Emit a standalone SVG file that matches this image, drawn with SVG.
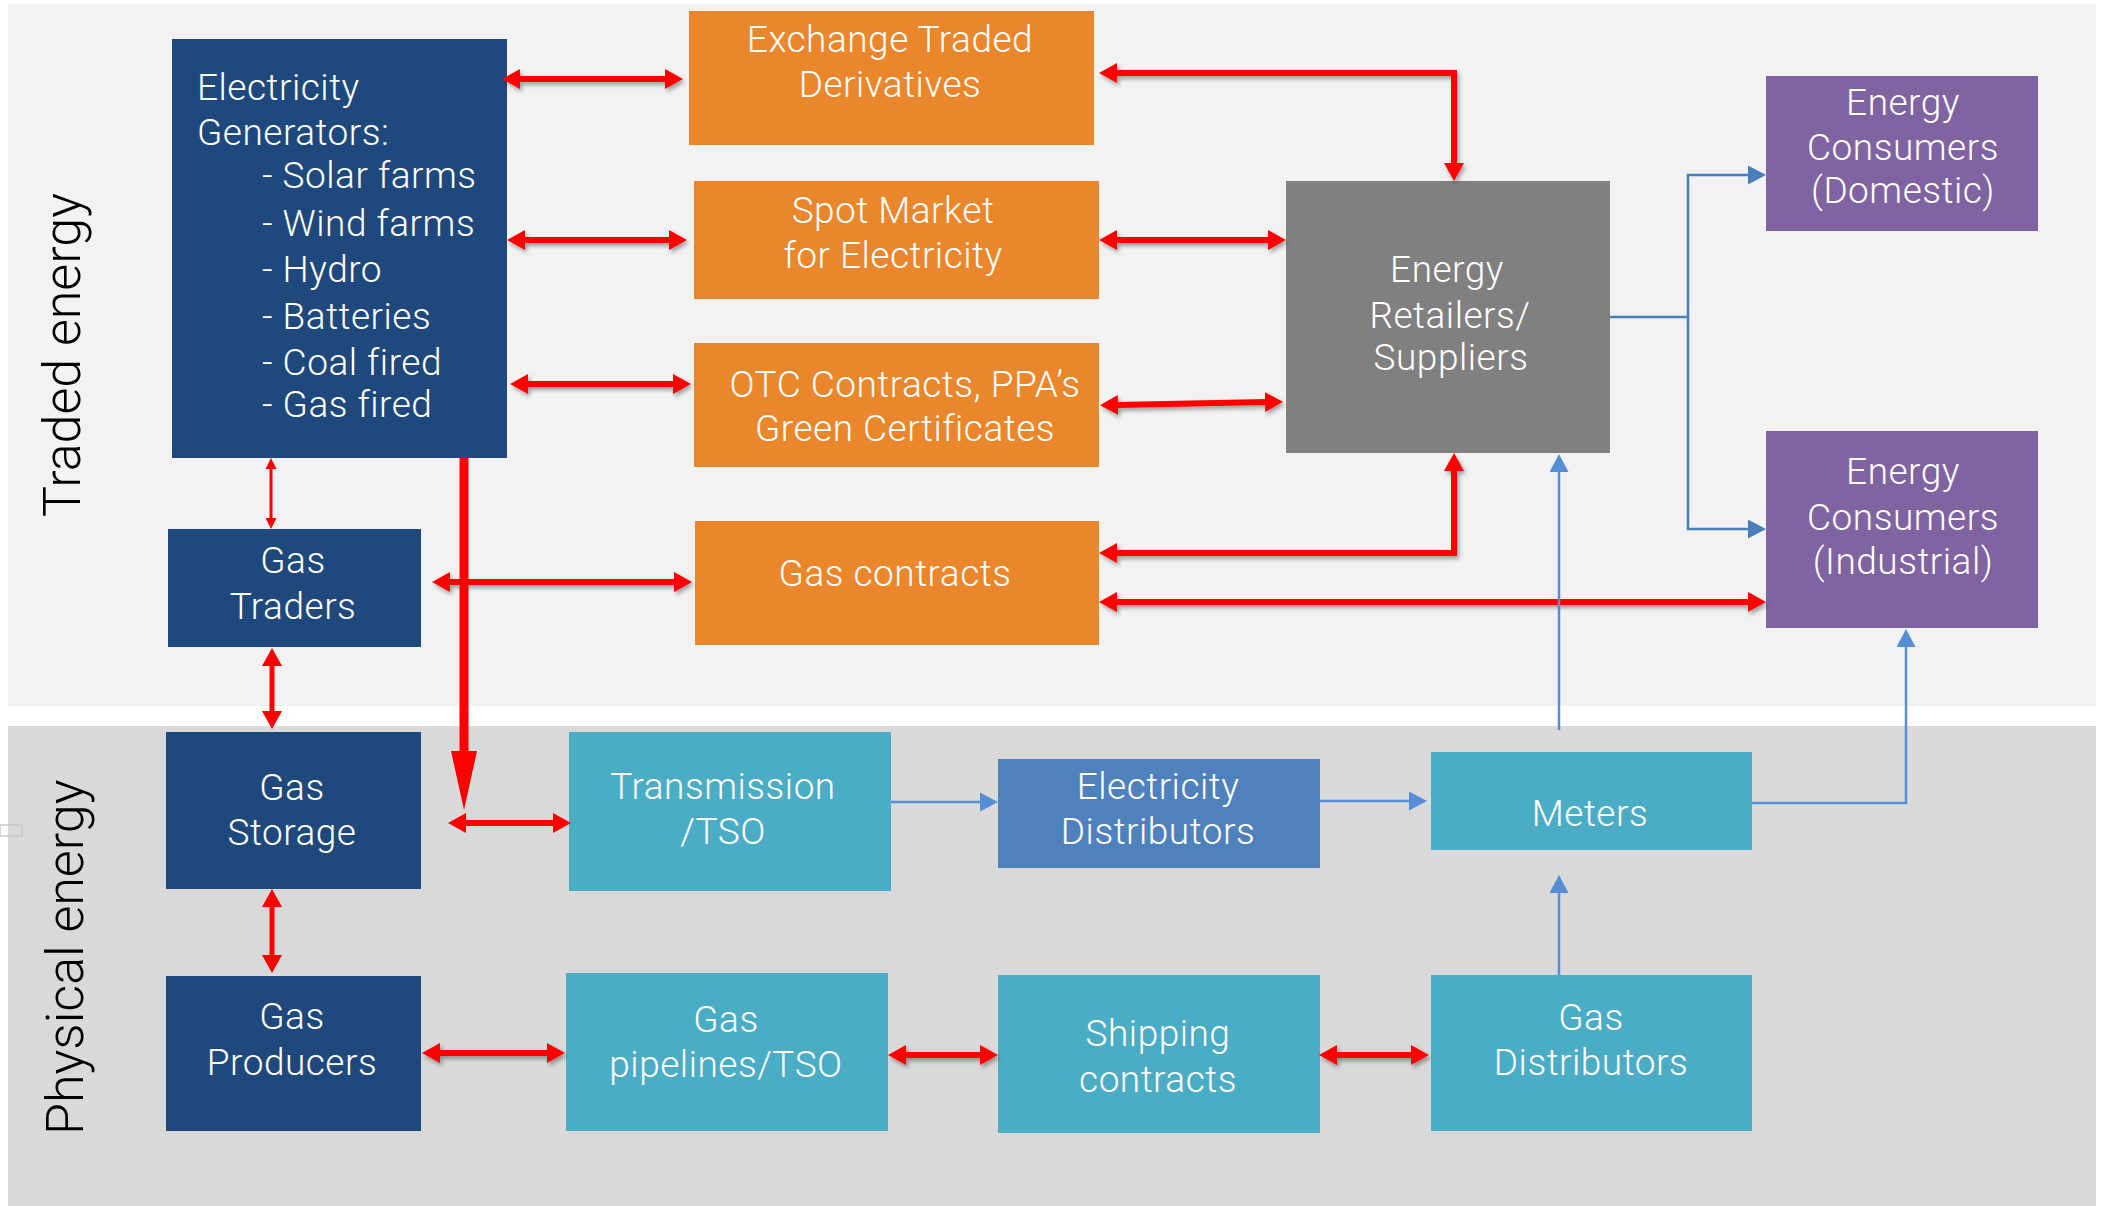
<svg xmlns="http://www.w3.org/2000/svg" width="2103" height="1206" viewBox="0 0 2103 1206">
<style>
  .lbl { font-family: Roboto, "Liberation Sans", "DejaVu Sans", sans-serif; font-weight: 300; font-size: 37px; letter-spacing: 0.5px; fill: #FFFFFF; }
  .c { text-anchor: middle; }
  .side { font-family: Roboto, "Liberation Sans", "DejaVu Sans", sans-serif; font-weight: 300; font-size: 52px; fill: #000000; }
  .navy { fill: #1F497D; }
  .orange { fill: #EA862B; }
  .grey { fill: #808080; }
  .purple { fill: #8064A2; }
  .teal { fill: #4BACC6; }
  .steel { fill: #4F81BD; }
  .red6 { stroke: #FF0000; stroke-width: 6; fill: none; }
  .red5 { stroke: #FF0000; stroke-width: 5; fill: none; }
  .red3 { stroke: #FF0000; stroke-width: 3; fill: none; }
  .blue { stroke: #558ED5; stroke-width: 2.5; fill: none; }
  .blue2 { stroke: #4A7EBB; stroke-width: 2.5; fill: none; }
</style>
<defs>
  <filter id="shadow" x="-20%" y="-50%" width="140%" height="200%">
    <feDropShadow dx="2" dy="3" stdDeviation="2" flood-color="#000000" flood-opacity="0.35"/>
  </filter>
  <marker id="rh" viewBox="0 0 18 20" refX="1" refY="10" markerWidth="18" markerHeight="20" markerUnits="userSpaceOnUse" orient="auto-start-reverse">
    <path d="M0,0 L18,10 L0,20 z" fill="#FF0000"/>
  </marker>
  <marker id="rs" viewBox="0 0 11 11" refX="1" refY="5.5" markerWidth="11" markerHeight="11" markerUnits="userSpaceOnUse" orient="auto-start-reverse">
    <path d="M0,0 L11,5.5 L0,11 z" fill="#FF0000"/>
  </marker>
  <marker id="bh" viewBox="0 0 18 19" refX="1" refY="9.5" markerWidth="18" markerHeight="19" markerUnits="userSpaceOnUse" orient="auto">
    <path d="M0,0 L18,9.5 L0,19 z" fill="#558ED5"/>
  </marker>
  <marker id="bh2" viewBox="0 0 18 19" refX="1" refY="9.5" markerWidth="18" markerHeight="19" markerUnits="userSpaceOnUse" orient="auto">
    <path d="M0,0 L18,9.5 L0,19 z" fill="#4A7EBB"/>
  </marker>
</defs>

<rect x="0" y="0" width="2103" height="1206" fill="#FFFFFF"/>

<g id="panels">
  <rect id="traded-panel" x="8" y="4" width="2088" height="702" fill="#F2F2F2"/>
  <rect id="physical-panel" x="8" y="726" width="2088" height="480" fill="#D9D9D9"/>
  <rect x="0" y="825" width="22" height="11" fill="none" stroke="#C8C8C8" stroke-width="1.5"/>
  <text class="side" transform="translate(80,517) rotate(-90)">Traded energy</text>
  <text class="side" transform="translate(83,1135) rotate(-90)">Physical energy</text>
</g>

<g id="n-elecgen">
  <rect class="navy" x="172" y="39" width="335" height="419"/>
  <text class="lbl" x="197" y="100">Electricity</text>
  <text class="lbl" x="197" y="145">Generators:</text>
  <text class="lbl" x="262" y="188">- Solar farms</text>
  <text class="lbl" x="262" y="236">- Wind farms</text>
  <text class="lbl" x="262" y="282">- Hydro</text>
  <text class="lbl" x="262" y="329">- Batteries</text>
  <text class="lbl" x="262" y="375">- Coal fired</text>
  <text class="lbl" x="262" y="417">- Gas fired</text>
</g>

<g id="n-exchange">
  <rect class="orange" x="689" y="11" width="405" height="134"/>
  <text class="lbl c" x="890" y="52">Exchange Traded</text>
  <text class="lbl c" x="890" y="97">Derivatives</text>
</g>

<g id="n-spot">
  <rect class="orange" x="694" y="181" width="405" height="118"/>
  <text class="lbl c" x="893" y="223">Spot Market</text>
  <text class="lbl c" x="893" y="268">for Electricity</text>
</g>

<g id="n-otc">
  <rect class="orange" x="694" y="343" width="405" height="124"/>
  <text class="lbl c" x="905" y="397">OTC Contracts, PPA’s</text>
  <text class="lbl c" x="905" y="441">Green Certificates</text>
</g>

<g id="n-gascontracts">
  <rect class="orange" x="695" y="521" width="404" height="124"/>
  <text class="lbl c" x="895" y="586">Gas contracts</text>
</g>

<g id="n-retailers">
  <rect class="grey" x="1286" y="181" width="324" height="272"/>
  <text class="lbl c" x="1447" y="282">Energy</text>
  <text class="lbl c" x="1450" y="328">Retailers/</text>
  <text class="lbl c" x="1451" y="370">Suppliers</text>
</g>

<g id="n-domestic">
  <rect class="purple" x="1766" y="76" width="272" height="155"/>
  <text class="lbl c" x="1903" y="115">Energy</text>
  <text class="lbl c" x="1903" y="160">Consumers</text>
  <text class="lbl c" x="1903" y="203">(Domestic)</text>
</g>

<g id="n-industrial">
  <rect class="purple" x="1766" y="431" width="272" height="197"/>
  <text class="lbl c" x="1903" y="484">Energy</text>
  <text class="lbl c" x="1903" y="530">Consumers</text>
  <text class="lbl c" x="1903" y="574">(Industrial)</text>
</g>

<g id="n-gastraders">
  <rect class="navy" x="168" y="529" width="253" height="118"/>
  <text class="lbl c" x="293" y="573">Gas</text>
  <text class="lbl c" x="293" y="619">Traders</text>
</g>

<g id="n-gasstorage">
  <rect class="navy" x="166" y="732" width="255" height="157"/>
  <text class="lbl c" x="292" y="800">Gas</text>
  <text class="lbl c" x="292" y="845">Storage</text>
</g>

<g id="n-gasproducers">
  <rect class="navy" x="166" y="976" width="255" height="155"/>
  <text class="lbl c" x="292" y="1029">Gas</text>
  <text class="lbl c" x="292" y="1075">Producers</text>
</g>

<g id="n-transmission">
  <rect class="teal" x="569" y="732" width="322" height="159"/>
  <text class="lbl c" x="723" y="799">Transmission</text>
  <text class="lbl c" x="723" y="844">/TSO</text>
</g>

<g id="n-elecdist">
  <rect class="steel" x="998" y="759" width="322" height="109"/>
  <text class="lbl c" x="1158" y="799">Electricity</text>
  <text class="lbl c" x="1158" y="844">Distributors</text>
</g>

<g id="n-meters">
  <rect class="teal" x="1431" y="752" width="321" height="98"/>
  <text class="lbl c" x="1590" y="826">Meters</text>
</g>

<g id="n-pipelines">
  <rect class="teal" x="566" y="973" width="322" height="158"/>
  <text class="lbl c" x="726" y="1032">Gas</text>
  <text class="lbl c" x="726" y="1077">pipelines/TSO</text>
</g>

<g id="n-shipping">
  <rect class="teal" x="998" y="975" width="322" height="158"/>
  <text class="lbl c" x="1158" y="1046">Shipping</text>
  <text class="lbl c" x="1158" y="1092">contracts</text>
</g>

<g id="n-gasdist">
  <rect class="teal" x="1431" y="975" width="321" height="156"/>
  <text class="lbl c" x="1591" y="1030">Gas</text>
  <text class="lbl c" x="1591" y="1075">Distributors</text>
</g>

<g id="connectors">
  <g filter="url(#shadow)">
    <path class="red6" d="M519,79 H666" marker-start="url(#rh)" marker-end="url(#rh)"/>
    <path class="red6" d="M524,240 H670" marker-start="url(#rh)" marker-end="url(#rh)"/>
    <path class="red6" d="M527,384 H674" marker-start="url(#rh)" marker-end="url(#rh)"/>
    <path class="red6" d="M1116,73 H1454 V164" marker-start="url(#rh)" marker-end="url(#rh)"/>
    <path class="red6" d="M1116,240 H1269" marker-start="url(#rh)" marker-end="url(#rh)"/>
    <path class="red6" d="M1117,405 L1266,402" marker-start="url(#rh)" marker-end="url(#rh)"/>
    <path class="red6" d="M449,582 H675" marker-start="url(#rh)" marker-end="url(#rh)"/>
    <path class="red6" d="M1116,553 H1454 V470" marker-start="url(#rh)" marker-end="url(#rh)"/>
    <path class="red6" d="M1116,602 H1749" marker-start="url(#rh)" marker-end="url(#rh)"/>
    <path class="red6" d="M439,1053 H548" marker-start="url(#rh)" marker-end="url(#rh)"/>
    <path class="red6" d="M905,1055 H981" marker-start="url(#rh)" marker-end="url(#rh)"/>
    <path class="red6" d="M1336,1055 H1412" marker-start="url(#rh)" marker-end="url(#rh)"/>
  </g>
  <path class="red6" d="M465,823 H554" marker-start="url(#rh)" marker-end="url(#rh)"/>
  <path class="red5" d="M272,665 V712" marker-start="url(#rh)" marker-end="url(#rh)"/>
  <path class="red5" d="M272,906 V956" marker-start="url(#rh)" marker-end="url(#rh)"/>
  <path class="red3" d="M271,468 V519" marker-start="url(#rs)" marker-end="url(#rs)"/>
  <path d="M464,458 V753" stroke="#FF0000" stroke-width="9" fill="none"/>
  <path d="M451,751 L477,751 L464,810 z" fill="#FF0000"/>

  <path class="blue2" d="M1610,317 H1688 V175 H1749" marker-end="url(#bh2)"/>
  <path class="blue2" d="M1688,317 V529 H1749" marker-end="url(#bh2)"/>
  <path class="blue" d="M891,802 H981" marker-end="url(#bh)"/>
  <path class="blue" d="M1320,801 H1410" marker-end="url(#bh)"/>
  <path class="blue" d="M1559,730 V471" marker-end="url(#bh)"/>
  <path class="blue" d="M1752,803 H1906 V646" marker-end="url(#bh)"/>
  <path class="blue" d="M1559,975 V892" marker-end="url(#bh)"/>
</g>
</svg>
